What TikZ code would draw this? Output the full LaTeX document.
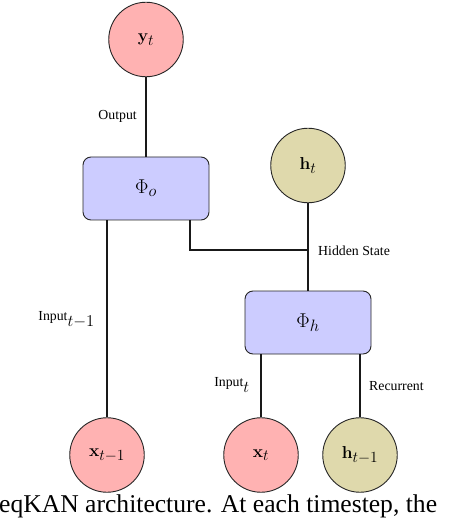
\RequirePackage{fix-cm}
\documentclass[tikz,border=0pt]{standalone}
\usepackage[no-math]{fontspec}
\setmainfont{Liberation Serif}
\DeclareMathSizes{13.8}{13.8}{16.5}{12}
\DeclareMathSizes{17.28}{17.28}{15.5}{12}
\DeclareMathSizes{20}{20}{16.5}{12}
\definecolor{inred}{RGB}{255,178,178}
\definecolor{hidcol}{RGB}{223,217,172}
\definecolor{kancol}{RGB}{204,204,255}
\begin{document}
\begin{tikzpicture}[x=1pt,y=-1pt,
  every node/.style={font=\fontsize{13.8}{16}\selectfont},
  circ/.style={circle,draw=black!85,line width=0.9pt,minimum size=74.5pt,inner sep=0pt,
    font=\fontsize{17.28}{20}\selectfont},
  inpnode/.style={circ,fill=inred},
  hidnode/.style={circ,fill=hidcol},
  kanbox/.style={rectangle,rounded corners=8pt,draw=black!85,line width=0.9pt,fill=kancol,
    minimum width=126pt,minimum height=63pt,inner sep=0pt,font=\fontsize{20}{22}\selectfont},
  conn/.style={line width=1.7pt,black!90},
  lbl/.style={inner sep=0pt}]
\useasboundingbox (0,0) rectangle (450,518);
% nodes
\node[inpnode] (yt) at (146,39.5) {$\mathbf{y}_t$};
\node[kanbox] (phio) at (146,188.5) {$\Phi_o$};
\node[hidnode] (ht) at (308,165.5) {$\mathbf{h}_t$};
\node[kanbox] (phih) at (308,322.5) {$\Phi_h$};
\node[inpnode] (xtm1) at (107,455) {$\mathbf{x}_{t-1}$};
\node[inpnode] (xt) at (261,455) {$\mathbf{x}_t$};
\node[hidnode] (htm1) at (360,455) {$\mathbf{h}_{t-1}$};
\coordinate (hj) at (308,250);
\coordinate (po) at (190,220);
% connectors
\draw[conn] (yt) -- (phio);
\draw[conn] (xtm1.north) -- (xtm1.north |- phio.south);
\draw[conn] (po) |- (hj);
\draw[conn] (ht) -- (phih);
\draw[conn] (xt.north) -- (xt.north |- phih.south);
\draw[conn] (htm1.north) -- (htm1.north |- phih.south);
% labels
\node[lbl,anchor=east] (lout) at (137,116) {Output};
\node[lbl,anchor=west] (lhid) at (318,251) {Hidden State};
\node[lbl,anchor=east] (lin1) at (95,320) {Input$_{t-1}$};
\node[lbl,anchor=east] (lin) at (250,385) {Input$_t$};
\node[lbl,anchor=west] (lrec) at (369,386) {Recurrent};
% caption fragment
\begin{scope}
\clip (0,0) rectangle (450,518);
\node[inner sep=0pt,anchor=base west,font=\fontsize{25.6}{28}\selectfont] (cap) at (-1,512) {eqKAN architecture. At each timestep, the};
\end{scope}
\end{tikzpicture}
\end{document}
